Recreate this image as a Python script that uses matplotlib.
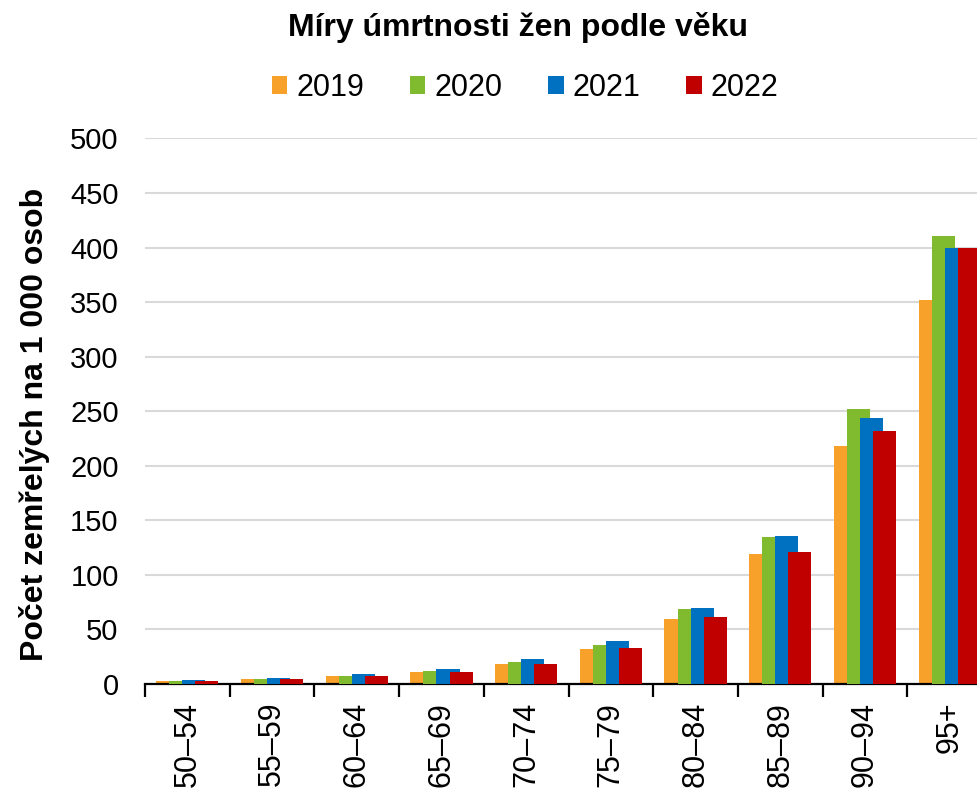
import numpy as np
import matplotlib.pyplot as plt

plt.rcParams['font.family'] = ['Liberation Sans', 'DejaVu Sans']

# data
ages = ['50–54', '55–59', '60–64', '65–69', '70–74', '75–79', '80–84', '85–89', '90–94', '95+']
years = ['2019', '2020', '2021', '2022']
v2019 = [2.6, 4.1, 7.1, 10.8, 17.9, 31.6, 59.1, 118.9, 217.9, 352.3]
v2020 = [2.6, 4.4, 7.1, 11.7, 20.0, 35.3, 68.8, 134.8, 252.1, 410.3]
v2021 = [3.2, 5.3, 8.7, 13.6, 23.0, 38.9, 69.7, 135.4, 243.3, 399.5]
v2022 = [3.0, 4.4, 6.8, 10.8, 18.1, 32.8, 61.2, 120.8, 231.6, 399.5]
colors = ['#f8a12a', '#80ba2e', '#0070c0', '#c00000']

fig = plt.figure(figsize=(9.78, 7.92), dpi=100)
ax = fig.add_axes([0.1483, 0.1366, 0.866, 0.6886])

x = np.arange(len(ages))
for k, vals in enumerate([v2019, v2020, v2021, v2022]):
    ax.bar(x + (k - 1.5) * 0.154, vals, width=0.272, color=colors[k],
           label=years[k], zorder=2 + k)

ax.set_xlim(-0.5, 9.5)
ax.set_ylim(0, 500)
ax.set_yticks(np.arange(0, 501, 50))
ax.yaxis.grid(True, color='#d9d9d9', linewidth=1.5, zorder=0)
ax.set_axisbelow(True)
ax.tick_params(axis='y', length=0, labelsize=21, pad=19)

# ticks between groups, labels under group centres
ax.set_xticks(np.arange(-0.5, 10, 1))
ax.set_xticklabels([])
ax.tick_params(axis='x', which='major', length=9, width=1.6, color='black')
ax.set_xticks(x, minor=True)
ax.set_xticklabels(ages, minor=True, rotation=90, fontsize=22)
ax.tick_params(axis='x', which='minor', length=0, pad=13)

for s in ['top', 'right', 'left']:
    ax.spines[s].set_visible(False)
ax.spines['bottom'].set_linewidth(1.6)

ax.set_ylabel('Počet zemřelých na 1 000 osob', fontsize=23, fontweight='bold')
ax.yaxis.set_label_coords(-0.112, 0.475)

fig.text(0.53, 0.965, 'Míry úmrtnosti žen podle věku', ha='center', va='center',
         fontsize=23, fontweight='bold')
fig.legend(loc='center', bbox_to_anchor=(0.537, 0.889), ncol=4, frameon=False,
           fontsize=22, handlelength=0.5, handleheight=0.5, handletextpad=0.3,
           columnspacing=1.5)

fig.savefig('out.png', dpi=100)
